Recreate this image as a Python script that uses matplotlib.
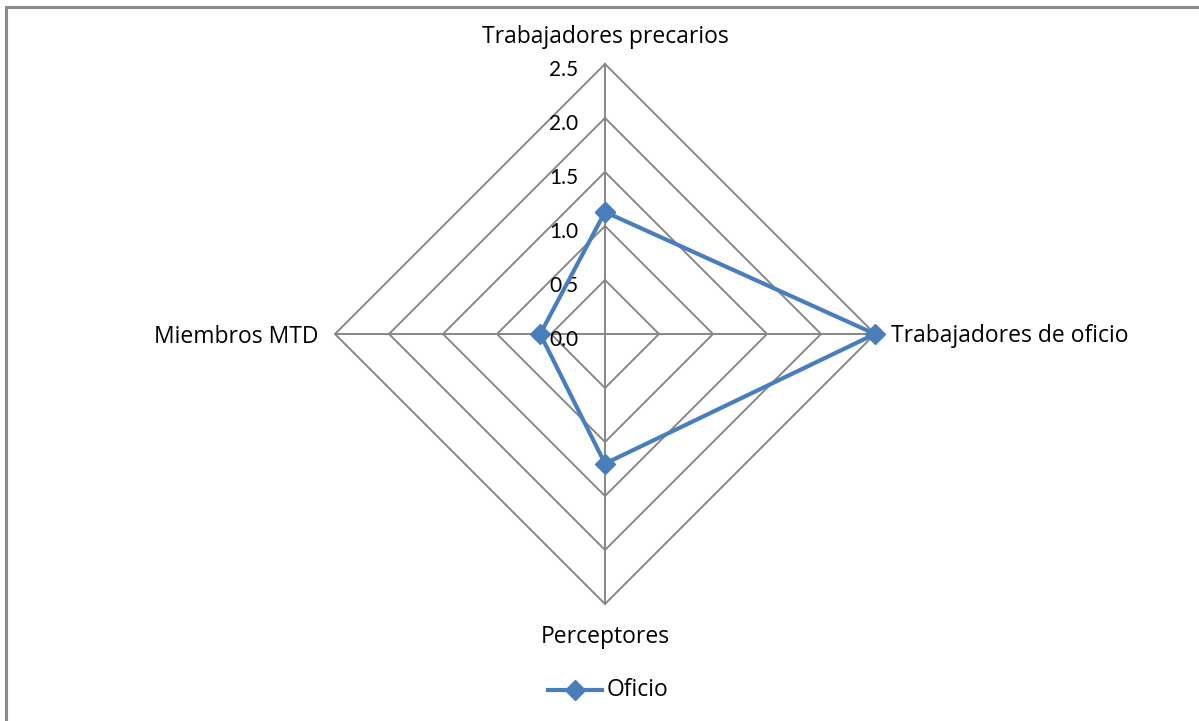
import numpy as np
import matplotlib.pyplot as plt

# categories clockwise from top
categorias = ['Trabajadores precarios', 'Trabajadores de oficio', 'Perceptores', 'Miembros MTD']
oficio = [1.13, 2.5, 1.2, 0.6]
niveles = [0.5, 1.0, 1.5, 2.0, 2.5]
etiquetas_eje = ['0.0', '0.5', '1.0', '1.5', '2.0', '2.5']

grid_col = '#878787'
serie_col = '#4a7ebb'
fuente = 'Lato'
fuente_cat = 'Open Sans'

fig = plt.figure(figsize=(11.99, 7.21), dpi=100)
ax = fig.add_axes([0, 0, 1, 1])
ppu = 108.0  # pixels per unit
cx, cy = 605, 334
ax.set_xlim(-cx / ppu, (1199 - cx) / ppu)
ax.set_ylim(-(721 - cy) / ppu, cy / ppu)
ax.axis('off')

ang = np.arange(4) * np.pi / 2
ux, uy = np.sin(ang), np.cos(ang)

# outer frame
fig.patches.append(plt.Rectangle((6 / 1199, -0.1), 2, (721 - 7) / 721 + 0.1,
                                 transform=fig.transFigure, fill=False,
                                 edgecolor='#8c8c8c', lw=2.2))

# grid diamonds and spokes
for lv in niveles:
    ax.plot(np.append(ux, ux[0]) * lv, np.append(uy, uy[0]) * lv, color=grid_col, lw=1.4, zorder=1)
for i in range(4):
    ax.plot([0, ux[i] * 2.5], [0, uy[i] * 2.5], color=grid_col, lw=1.4, zorder=1)

# axis value labels
for k, t in enumerate(etiquetas_eje):
    ax.text(-27 / ppu, k * 0.5 - 6 / ppu, t, ha='right', va='center',
            fontsize=15, family=fuente, color='black', zorder=3)

# series
vx = np.array(oficio) * ux
vy = np.array(oficio) * uy
ax.plot(np.append(vx, vx[0]), np.append(vy, vy[0]), color=serie_col, lw=3,
        marker='D', markersize=10, zorder=4)

# category labels
off = 16 / ppu
fs = 16.5
ax.text(0, 2.5 + 27 / ppu, categorias[0], ha='center', va='center', fontsize=fs, family=fuente_cat)
ax.text(2.5 + off, -2 / ppu, categorias[1], ha='left', va='center', fontsize=fs, family=fuente_cat)
ax.text(0, -2.5 - 33 / ppu, categorias[2], ha='center', va='center', fontsize=fs, family=fuente_cat)
ax.text(-2.5 - off, -3 / ppu, categorias[3], ha='right', va='center', fontsize=fs, family=fuente_cat)

# legend
ly = (cy - 690) / ppu
ax.plot([(548 - cx) / ppu, (602 - cx) / ppu], [ly, ly], color=serie_col, lw=3)
ax.plot([(575 - cx) / ppu], [ly], color=serie_col, marker='D', markersize=10)
ax.text((607 - cx) / ppu, ly, 'Oficio', ha='left', va='center', fontsize=fs, family=fuente_cat)

fig.savefig('out.png', dpi=100)
